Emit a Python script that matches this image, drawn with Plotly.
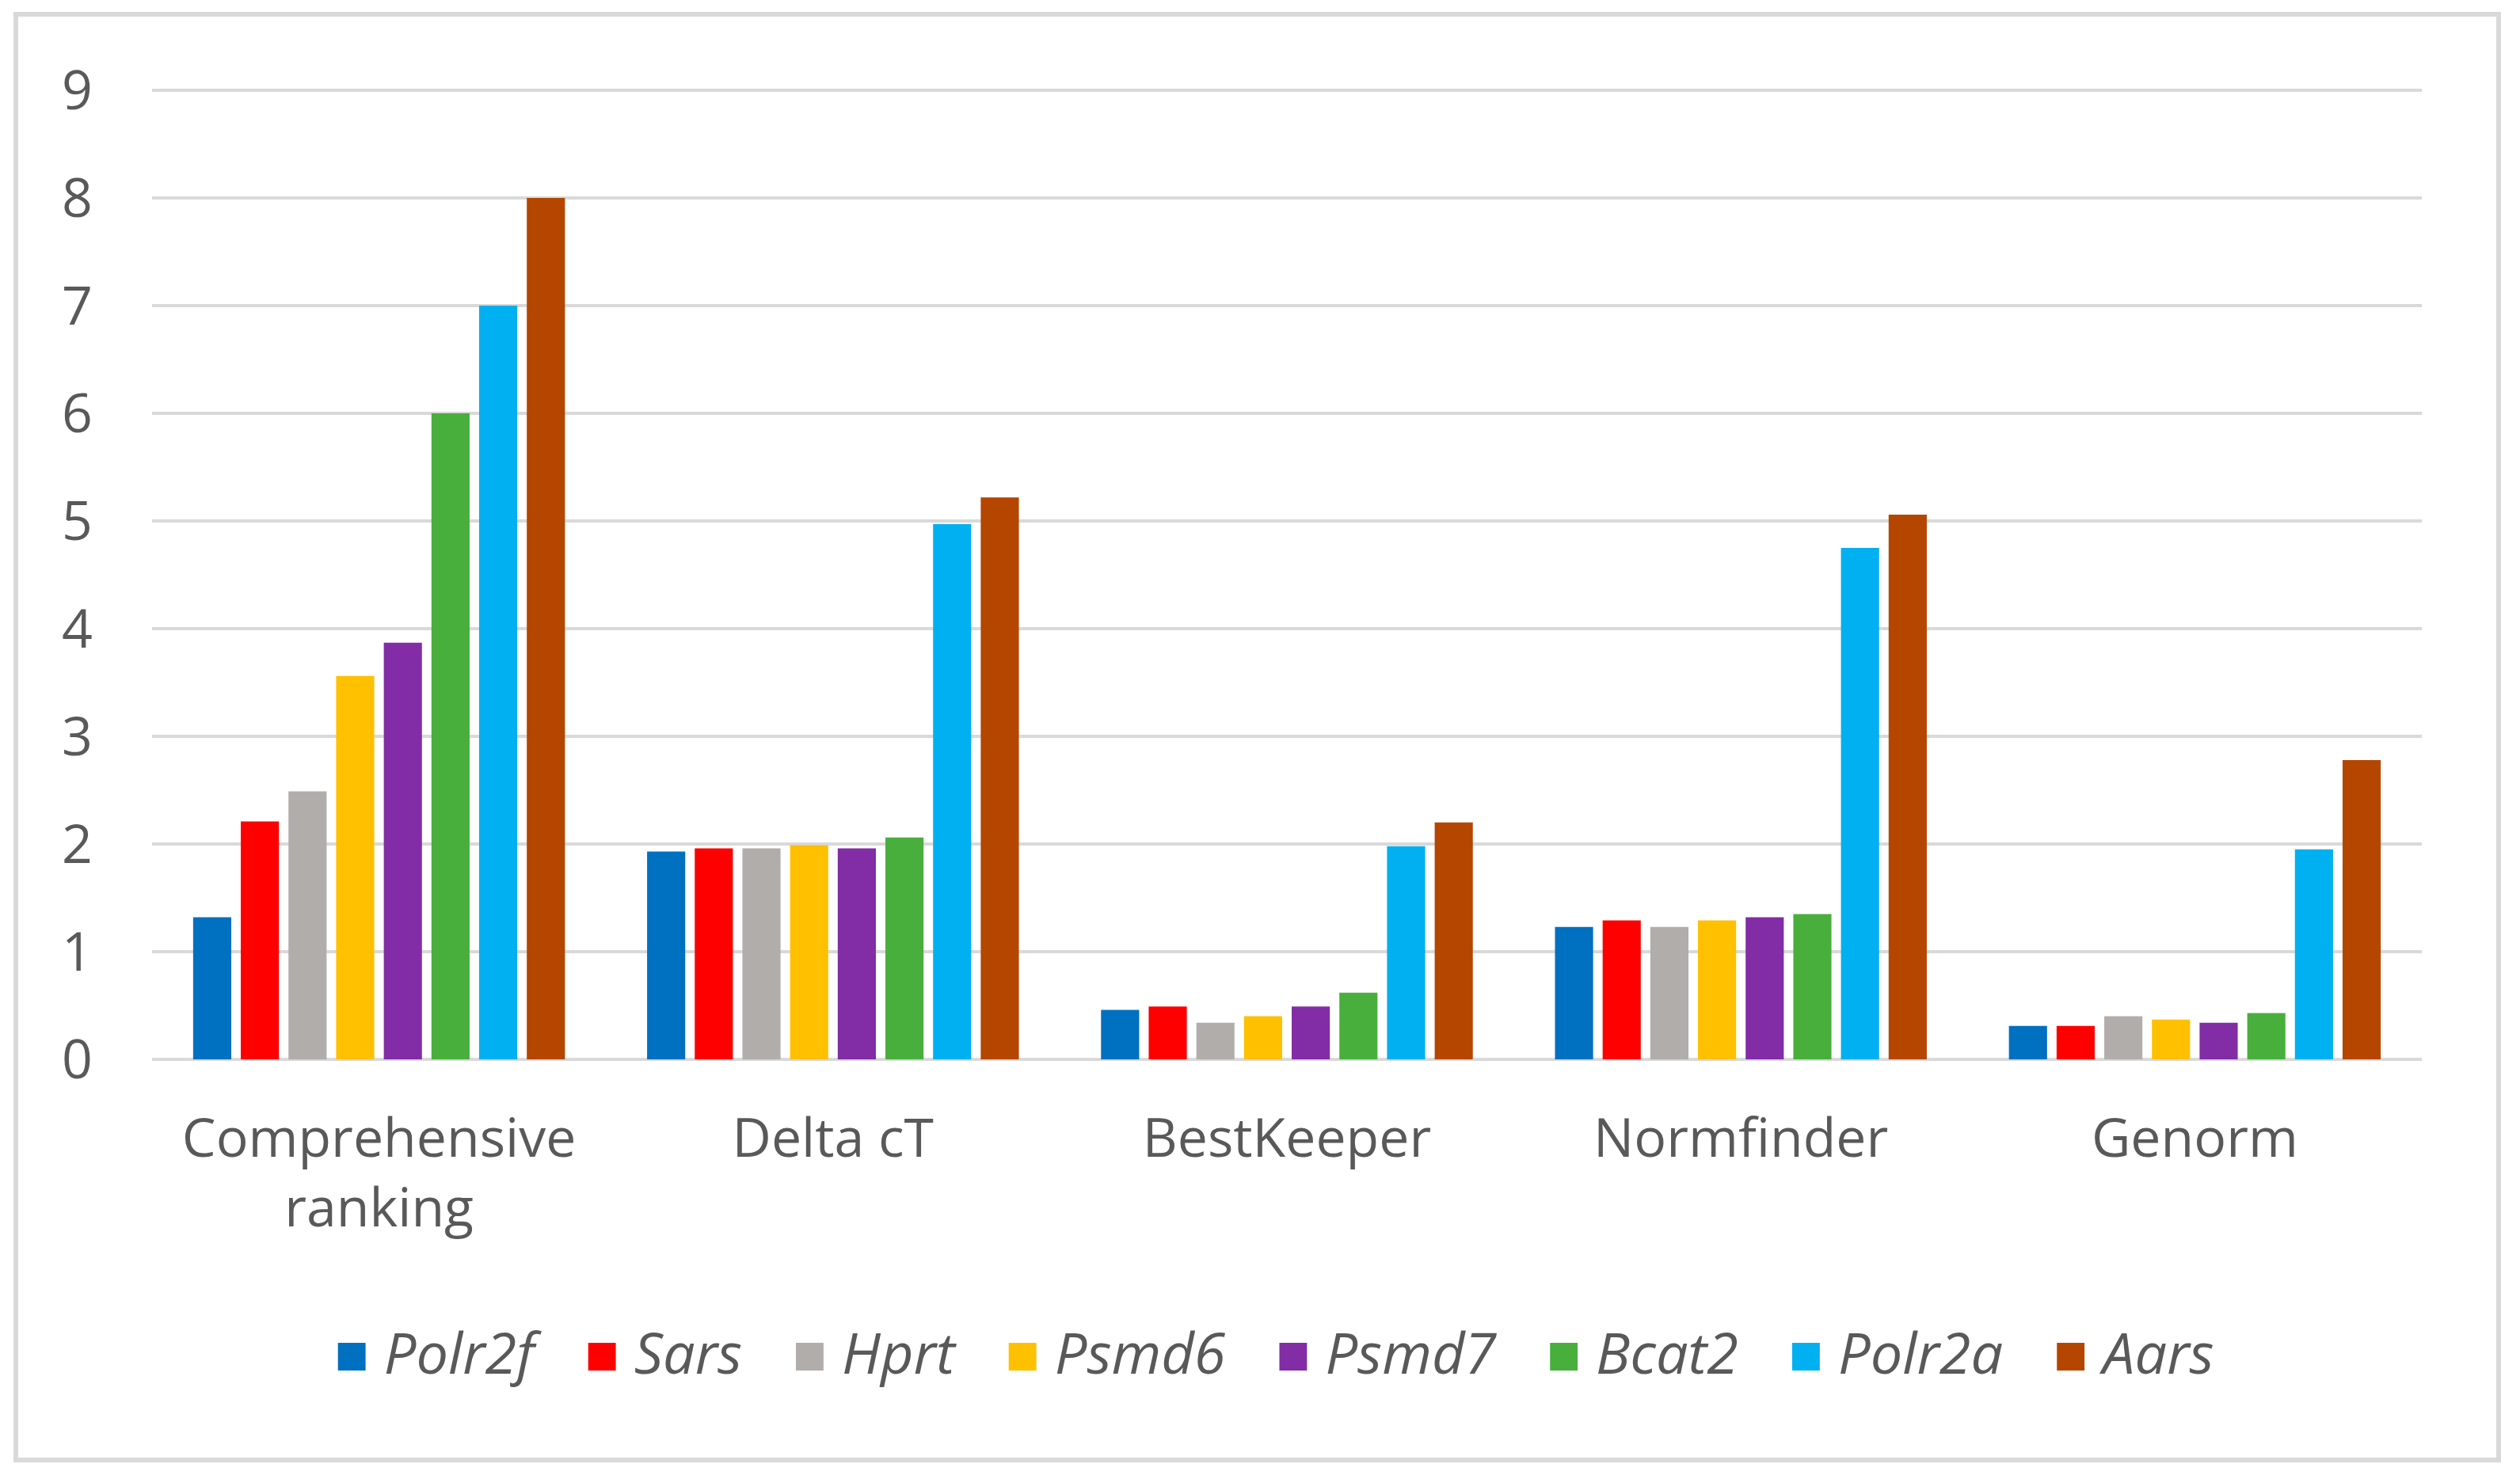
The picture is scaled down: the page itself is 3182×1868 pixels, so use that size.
import plotly.graph_objects as go

categories = ["Comprehensive<br>ranking", "Delta cT", "BestKeeper", "Normfinder", "Genorm"]
genes = ["Polr2f", "Sars", "Hprt", "Psmd6", "Psmd7", "Bcat2", "Polr2a", "Aars"]
colors = ["#0070C0", "#FF0000", "#B1ADAA", "#FFC000", "#822CA6", "#48AF3C", "#00B0F0", "#B44600"]

polr2f = [1.32, 1.93, 0.46, 1.23, 0.31]
sars = [2.21, 1.96, 0.49, 1.29, 0.31]
hprt = [2.49, 1.96, 0.34, 1.23, 0.40]
psmd6 = [3.56, 1.99, 0.40, 1.29, 0.37]
psmd7 = [3.87, 1.96, 0.49, 1.32, 0.34]
bcat2 = [6.0, 2.06, 0.62, 1.35, 0.43]
polr2a = [7.0, 4.97, 1.98, 4.75, 1.95]
aars = [8.0, 5.22, 2.20, 5.06, 2.78]

series = [polr2f, sars, hprt, psmd6, psmd7, bcat2, polr2a, aars]
yticks = [0, 1, 2, 3, 4, 5, 6, 7, 8, 9]

W, H = 3182, 1868
ML, MR, MT, MB = 192, 124, 110, 530
YMAX = 9.03

fig = go.Figure()
for g, c, vals in zip(genes, colors, series):
    fig.add_trace(go.Bar(
        x=categories, y=vals, name=g, legendgroup=g, showlegend=False,
        marker=dict(color=c, line=dict(width=0)),
    ))
# legend entries with large square swatches (Excel-style)
NB = "\u00a0"
for i, (g, c) in enumerate(zip(genes, colors)):
    pad = NB if i < len(genes) - 1 else ""
    fig.add_trace(go.Scatter(
        x=[None], y=[None], mode="markers", legendgroup=g,
        name=f'<span style="color:{c}">■</span> <i>{g}</i>{pad}',
        marker=dict(color="rgba(0,0,0,0)", size=2),
        hoverinfo="skip", showlegend=True,
    ))

pw = W - ML - MR
ph = H - MT - MB

def px_x(v):
    return (v - ML) / pw

def px_y(v):
    return (H - MB - v) / ph

fig.update_layout(
    width=W, height=H,
    margin=dict(l=ML, r=MR, t=MT, b=MB),
    paper_bgcolor="white", plot_bgcolor="white",
    barmode="group", bargap=0.16, bargroupgap=0.2,
    font=dict(family="Open Sans", size=68, color="#595959"),
    showlegend=True,
    legend=dict(
        orientation="h", x=px_x(1592), xanchor="center",
        y=px_y(1707), yanchor="middle",
        font=dict(family="Open Sans", size=72, color="#595959"),
        itemwidth=30, traceorder="normal",
    ),
    shapes=[dict(
        type="rect", xref="paper", yref="paper",
        x0=px_x(20), x1=px_x(3155), y0=px_y(18), y1=px_y(1844),
        line=dict(color="#D9D9D9", width=6), fillcolor="rgba(0,0,0,0)", layer="below",
    )],
)

fig.update_yaxes(
    range=[0, YMAX], tickvals=yticks, ticktext=[str(t) for t in yticks],
    showgrid=True, gridcolor="#D9D9D9", gridwidth=4,
    zeroline=True, zerolinecolor="#D9D9D9", zerolinewidth=4,
    showline=False, ticks="", ticklabelstandoff=74, automargin=False,
    tickfont=dict(family="Open Sans", size=68, color="#595959"),
)
fig.update_xaxes(
    showgrid=False, showline=False, ticks="", ticklabelstandoff=54, automargin=False,
    tickfont=dict(family="Open Sans", size=68, color="#595959"),
)

fig.write_html("out.html", config={"displayModeBar": False},
               post_script="document.body.style.margin='0';")
